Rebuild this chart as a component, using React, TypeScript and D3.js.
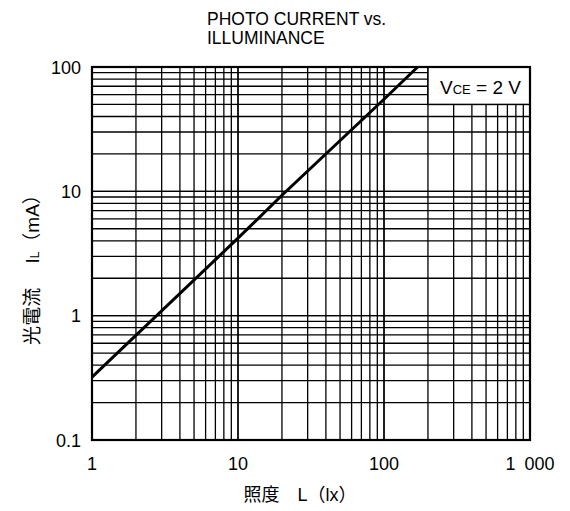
import React from "react";
import * as d3 from "d3";

const xTicks = [1, 10, 100, 1000];
const xTickLabels = ["1", "10", "100", "1\u2002000"];
const yTicks = [0.1, 1, 10, 100];
const yTickLabels = ["0.1", "1", "10", "100"];
const lux = [1, 10, 20, 100, 170];
const current = [0.32, 4.2, 9.3, 55, 100];

const W = 570, H = 511;
const L = 92, R = 530, T = 67, B = 440;

export default function App() {
  const x = d3.scaleLog().domain([1, 1000]).range([L, R]);
  const y = d3.scaleLog().domain([0.1, 100]).range([B, T]);
  const xGrid: number[] = [];
  for (const d of [1, 10, 100]) for (let k = 1; k <= 10; k++) xGrid.push(d * k);
  const yGrid: number[] = [];
  for (const d of [0.1, 1, 10]) for (let k = 1; k <= 10; k++) yGrid.push(+(d * k).toPrecision(3));
  const pts = lux.map((v, i) => [v, current[i]] as [number, number]);
  const line = d3.line<[number, number]>().x(d => x(d[0])).y(d => y(d[1]));
  const latin = "'Liberation Sans', Arial, sans-serif";
  const cjk = "'Liberation Sans', 'Noto Sans CJK JP', sans-serif";
  return (
    <svg width={W} height={H} style={{ position: "absolute", left: 0, top: 0, background: "#fff" }}>
      <rect width={W} height={H} fill="#fff" />
      <text x={207} y={25} fontFamily={latin} fontSize={17.5} fill="#000">PHOTO CURRENT vs.</text>
      <text x={207} y={44} fontFamily={latin} fontSize={17.5} fill="#000">ILLUMINANCE</text>
      <g stroke="#000" strokeWidth={1.3}>
        {xGrid.map((v, i) => (
          <line key={"x" + i} x1={x(v)} x2={x(v)} y1={B} y2={T} />
        ))}
        {yGrid.map((v, i) => (
          <line key={"y" + i} x1={L} x2={R} y1={y(v)} y2={y(v)} />
        ))}
      </g>
      <rect x={x(200)} y={T} width={R - x(200)} height={y(50) - T} fill="#fff" stroke="#000" strokeWidth={1.5} />
      <text x={440} y={94} fontFamily={latin} fontSize={19} fill="#000">
        V<tspan fontSize={13}>CE</tspan> = 2 V
      </text>
      <rect x={L} y={T} width={R - L} height={B - T} fill="none" stroke="#000" strokeWidth={2.2} />
      <path d={line(pts) || ""} fill="none" stroke="#000" strokeWidth={3} />
      {xTicks.map((v, i) => (
        <text key={"xt" + i} x={x(v)} y={470} textAnchor="middle" fontFamily={latin} fontSize={18} fill="#000">{xTickLabels[i]}</text>
      ))}
      {yTicks.map((v, i) => (
        <text key={"yt" + i} x={81} y={y(v) + 6.5} textAnchor="end" fontFamily={latin} fontSize={18} fill="#000">{yTickLabels[i]}</text>
      ))}
      <text x={300} y={501} textAnchor="middle" fontFamily={cjk} fontSize={18} fill="#000">照度　L（lx）</text>
      <text transform="translate(39,265) rotate(-90)" textAnchor="middle" fontFamily={cjk} fontSize={19} fill="#000">
        光電流　 I<tspan fontSize={12}>L</tspan>（mA）
      </text>
    </svg>
  );
}
